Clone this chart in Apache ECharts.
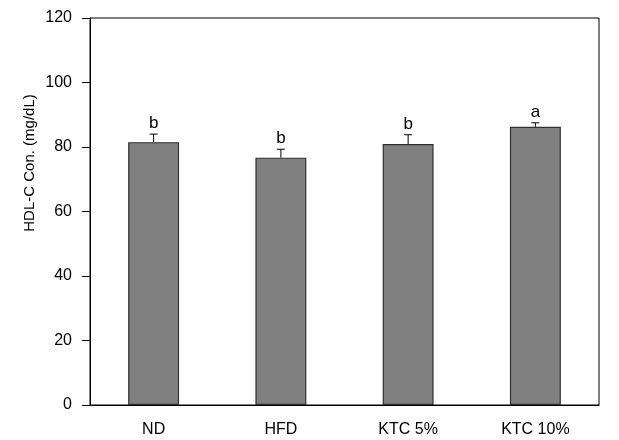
<!DOCTYPE html>
<html><head><meta charset="utf-8">
<script src="https://cdn.jsdelivr.net/npm/echarts@6/dist/echarts.min.js"></script>
<style>html,body{margin:0;padding:0;background:#fff}#c{width:619px;height:440px}</style>
</head><body><div id="c"></div>
<script>
const categories = ['ND', 'HFD', 'KTC 5%', 'KTC 10%'];
const means = [81.5, 76.7, 80.9, 86.3];
const errors = [2.5, 2.6, 2.9, 1.2];
const letters = ['b', 'b', 'b', 'a'];
const yTicks = [0, 20, 40, 60, 80, 100, 120];
const yTitle = 'HDL-C Con. (mg/dL)';

const chart = echarts.init(document.getElementById('c'));
const font = 'Liberation Sans';
chart.setOption({
  animation: false,
  grid: {left: 90, right: 20, top: 18, bottom: 35, show: true, borderColor: '#000', borderWidth: 1, containLabel: false},
  graphic: [{
    type: 'text', x: 30, y: 163, rotation: Math.PI / 2,
    style: {text: yTitle, fill: '#000', fontFamily: font, fontSize: 15, textAlign: 'center', textVerticalAlign: 'middle'}
  }],
  xAxis: {
    type: 'category', data: categories,
    axisLine: {lineStyle: {color: '#000', width: 1}},
    axisTick: {inside: true, length: 4, lineStyle: {color: '#000'}},
    axisLabel: {color: '#000', fontFamily: font, fontSize: 16, margin: 17}
  },
  yAxis: {
    type: 'value', min: yTicks[0], max: yTicks[yTicks.length - 1], interval: 20,
    axisLine: {show: true, lineStyle: {color: '#000', width: 1}},
    axisTick: {show: true, length: 8, lineStyle: {color: '#000'}},
    axisLabel: {color: '#000', fontFamily: font, fontSize: 16, margin: 18},
    splitLine: {show: false}
  },
  series: [
    {
      type: 'bar', data: means, barWidth: '40%',
      itemStyle: {color: '#808080', borderColor: '#303030', borderWidth: 1.2}
    },
    {
      type: 'custom',
      data: means.map((m, i) => [i, m, m + errors[i]]),
      renderItem: function (params, api) {
        const base = api.coord([api.value(0), api.value(1)]);
        const top = api.coord([api.value(0), api.value(2)]);
        const hw = 4;
        return {
          type: 'group',
          children: [
            {type: 'line', shape: {x1: base[0], y1: base[1], x2: top[0], y2: top[1]}, style: {stroke: '#000', lineWidth: 1}},
            {type: 'line', shape: {x1: top[0] - hw, y1: top[1], x2: top[0] + hw, y2: top[1]}, style: {stroke: '#000', lineWidth: 1}},
            {type: 'text', x: top[0], y: top[1] - 2, style: {text: letters[params.dataIndex], fill: '#000', fontFamily: font, fontSize: 17, textAlign: 'center', textVerticalAlign: 'bottom'}}
          ]
        };
      },
      z: 5
    }
  ]
});
</script></body></html>
